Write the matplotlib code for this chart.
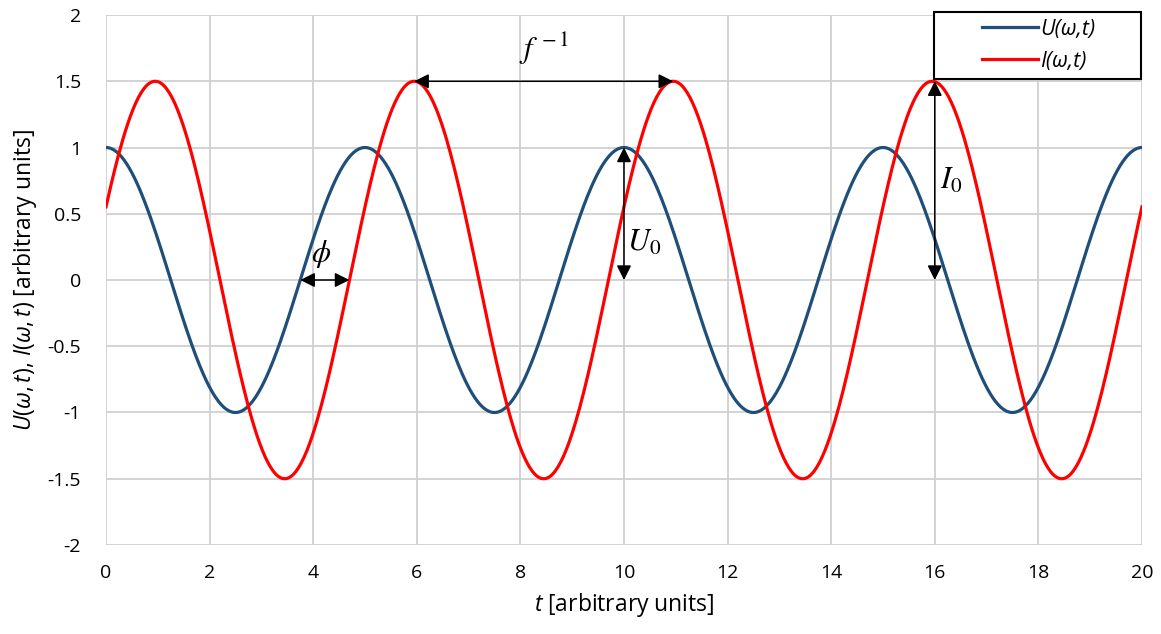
import numpy as np
import matplotlib.pyplot as plt
from matplotlib.patches import Rectangle

# signal parameters (amplitude, period, time of first maximum)
u_amp, u_period, u_peak = 1.0, 5.0, 0.0
i_amp, i_period, i_peak = 1.5, 5.0, 0.95

t = np.linspace(0, 20, 801)
u = u_amp * np.cos(2 * np.pi * (t - u_peak) / u_period)
i = i_amp * np.cos(2 * np.pi * (t - i_peak) / i_period)

xticks = np.arange(0, 21, 2)
yticks = [-2, -1.5, -1, -0.5, 0, 0.5, 1, 1.5, 2]
ytick_labels = ['-2', '-1.5', '-1', '-0.5', '0', '0.5', '1', '1.5', '2']

plt.rcParams['font.family'] = ['Open Sans', 'DejaVu Sans']
plt.rcParams['mathtext.fontset'] = 'custom'
plt.rcParams['mathtext.rm'] = 'Open Sans'
plt.rcParams['mathtext.it'] = 'Open Sans:italic'

fig = plt.figure(figsize=(11.61, 6.34), dpi=100)
ax = fig.add_axes([0.0913, 0.1404, 0.8923, 0.8359])

ax.plot(t, u, color='#1f4e79', lw=2.3, label='U(ω,t)')
ax.plot(t, i, color='#ff0000', lw=2.3, label='I(ω,t)')

ax.set_xlim(0, 20)
ax.set_ylim(-2, 2)
ax.set_xticks(xticks)
ax.set_yticks(yticks)
ax.set_yticklabels(ytick_labels)
ax.grid(True, color='#d0d0d0', lw=1.3)
ax.set_axisbelow(True)
for s in ax.spines.values():
    s.set_visible(False)
ax.tick_params(length=0, labelsize=14, pad=14)
ax.tick_params(axis='y', pad=18)

ax.set_xlabel(r'$\mathit{t}$ [arbitrary units]', fontsize=16.5, labelpad=6)
ax.set_ylabel(r'$\mathit{U(\omega,t)}$, $\mathit{I(\omega,t)}$ [arbitrary units]',
              fontsize=16.5, labelpad=6)

arrow = dict(arrowstyle='<|-|>', color='black', lw=1.1, mutation_scale=22,
             shrinkA=0, shrinkB=0)
sym = dict(fontsize=22, math_fontfamily='stix')

# period
ax.annotate('', xy=(i_peak + 2 * i_period, i_amp), xytext=(i_peak + i_period, i_amp),
            arrowprops=arrow)
ax.text(8.45, 1.61, r'$f^{\,-1}$', ha='center', va='bottom', **sym)

# amplitudes
ax.annotate('', xy=(10, 0), xytext=(10, u_amp), arrowprops=arrow)
ax.text(10.05, 0.28, r'$U_0$', ha='left', va='center', **sym)
ax.annotate('', xy=(16, 0), xytext=(16, i_amp), arrowprops=arrow)
ax.text(16.1, 0.75, r'$I_0$', ha='left', va='center', **sym)

# phase shift
ax.annotate('', xy=(3.75, 0), xytext=(3.75 + i_peak, 0), arrowprops=arrow)
ax.text(4.15, 0.2, r'$\phi$', ha='center', va='center', **sym)

# legend box, wider than its entries
ax.add_patch(Rectangle((934 / 1161, 1 - 79 / 634), 207 / 1161, 67 / 634,
                       transform=fig.transFigure, facecolor='white',
                       edgecolor='black', lw=1.5, zorder=5, clip_on=False))
leg = ax.legend(loc='upper left', bbox_to_anchor=(982 / 1161, 1 - 19 / 634),
                bbox_transform=fig.transFigure, prop={'size': 15.5, 'style': 'italic'},
                frameon=False, borderaxespad=0, borderpad=0, handlelength=2.6,
                handletextpad=0.1, labelspacing=0.5)
leg.set_zorder(6)

fig.savefig('out.png', dpi=100)
